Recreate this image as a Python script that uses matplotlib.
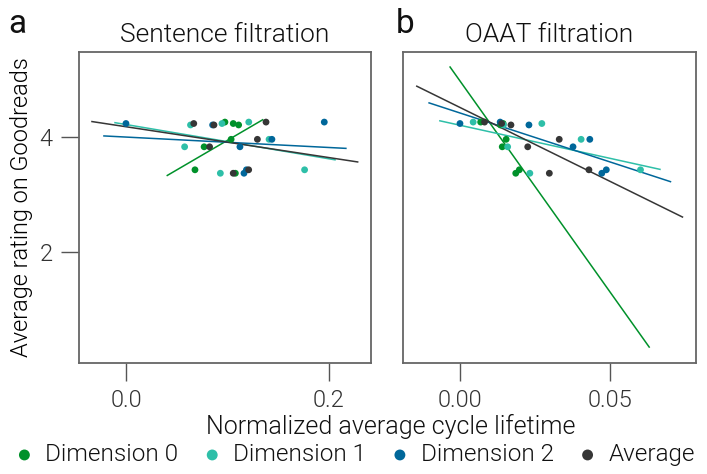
import matplotlib
matplotlib.use("Agg")
from matplotlib import pyplot as plt
import numpy as np

plt.rcParams['font.family'] = ['Roboto', 'DejaVu Sans']
plt.rcParams['font.weight'] = 300
plt.rcParams['axes.titleweight'] = 300
plt.rcParams['axes.labelweight'] = 300
plt.rcParams['text.color'] = '#111111'

labels = ["Dimension 0", "Dimension 1", "Dimension 2", "Average"]
colors = ["#00912a", "#2ebfa8", "#00679a", "#363636"]

# Goodreads average rating of the seven books
ratings = [4.26, 4.235, 4.21, 3.96, 3.83, 3.43, 3.37]

# normalized average cycle lifetime, sentence filtration
sent_x = {
    "Dimension 0": [0.0975, 0.1057, 0.1110, 0.1036, 0.0770, 0.0680, 0.1078],
    "Dimension 1": [0.1210, 0.0946, 0.0636, 0.1410, 0.0578, 0.1760, 0.0930],
    "Dimension 2": [0.1954, 0.0000, 0.0854, 0.1438, 0.1123, 0.1187, 0.1163],
    "Average":     [0.1380, 0.0668, 0.0867, 0.1295, 0.0824, 0.1209, 0.1057],
}
# OAAT filtration
oaat_x = {
    "Dimension 0": [0.0069, 0.0144, 0.0135, 0.0154, 0.0141, 0.0198, 0.0186],
    "Dimension 1": [0.0044, 0.0273, 0.0145, 0.0404, 0.0159, 0.0602, 0.0233],
    "Dimension 2": [0.0134, 0.0000, 0.0230, 0.0433, 0.0377, 0.0488, 0.0473],
    "Average":     [0.0082, 0.0139, 0.0170, 0.0331, 0.0226, 0.0430, 0.0298],
}
# x extent of each regression line
sent_fit_range = {
    "Dimension 0": (0.0407, 0.1347),
    "Dimension 1": (-0.0108, 0.2060),
    "Dimension 2": (-0.0217, 0.2167),
    "Average":     (-0.0335, 0.2283),
}
oaat_fit_range = {
    "Dimension 0": (-0.0033, 0.0631),
    "Dimension 1": (-0.0067, 0.0667),
    "Dimension 2": (-0.0103, 0.0702),
    "Average":     (-0.0144, 0.0742),
}

fig = plt.figure(figsize=(7.07, 4.74), dpi=100)
ax1 = fig.add_axes([0.1117, 0.2342, 0.413, 0.656])
ax2 = fig.add_axes([0.570, 0.2342, 0.4144, 0.656])

def panel(ax, xs, ranges, title):
    for lab, c in zip(labels, colors):
        x = np.array(xs[lab])
        y = np.array(ratings)
        m, b = np.polyfit(x, y, 1)
        lx = np.array(ranges[lab])
        ax.plot(lx, m * lx + b, color=c, lw=1.1, zorder=2)
    for lab, c in zip(labels, colors):
        ax.scatter(xs[lab], ratings, s=24, color=c, edgecolors='none', zorder=3, label=lab)
    ax.set_title(title, fontsize=19, pad=7)
    for sp in ax.spines.values():
        sp.set_color("#666666")
        sp.set_linewidth(1.3)
    ax.tick_params(length=13, width=1, color="#555555", labelsize=17,
                   labelcolor="#333333", pad=6)
    ax.set_ylim(0.07, 5.478)
    ax.set_yticks([2, 4])

panel(ax1, sent_x, sent_fit_range, "Sentence filtration")
panel(ax2, oaat_x, oaat_fit_range, "OAAT filtration")

ax1.set_xlim(-0.0463, 0.2414)
ax1.set_xticks([0.0, 0.2])
ax1.set_xticklabels(["0.0", "0.2"])
ax2.set_xlim(-0.019, 0.0787)
ax2.set_xticks([0.0, 0.05])
ax2.set_xticklabels(["0.00", "0.05"])
ax2.tick_params(axis='y', left=False, labelleft=False)

ax1.set_ylabel("Average rating on Goodreads", fontsize=17, labelpad=5)
fig.text(0.552, 0.073, "Normalized average cycle lifetime", ha='center', va='bottom', fontsize=18)

fig.text(0.012, 0.915, "a", fontsize=24, fontweight='normal', va='bottom')
fig.text(0.560, 0.915, "b", fontsize=24, fontweight='normal', va='bottom')

handles, labs = ax1.get_legend_handles_labels()
fig.legend(handles, labs, loc='lower center', bbox_to_anchor=(0.5, -0.03), ncol=4,
           frameon=False, fontsize=17.5, handletextpad=0.35, columnspacing=0.9,
           markerscale=1.6, handlelength=1.0)

fig.savefig("out.png", dpi=100)
